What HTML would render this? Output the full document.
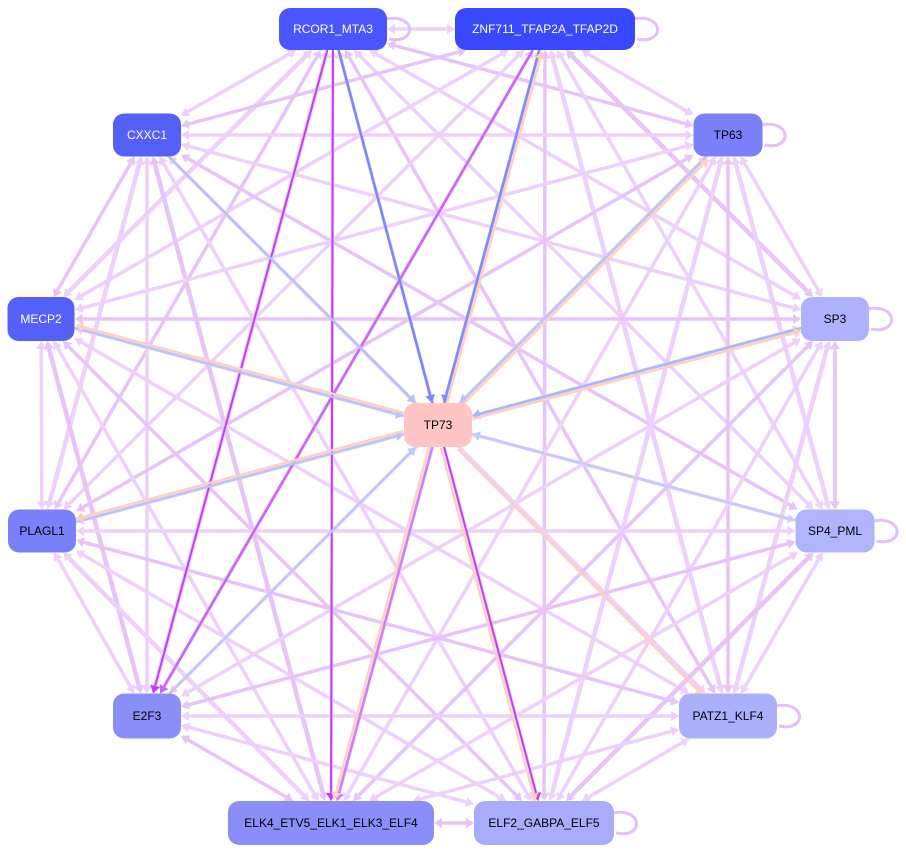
<!DOCTYPE html>
<html><head><meta charset="utf-8"><style>
html,body{margin:0;padding:0;background:#fff;width:906px;height:853px;overflow:hidden}
svg{display:block}
text{font-family:"Liberation Sans",sans-serif;font-size:12px}
</style></head><body>
<svg id="s" width="906" height="853" viewBox="0 0 906 853" xmlns="http://www.w3.org/2000/svg">
<g id="edges"></g>
<g id="nodes"></g>
</svg>
<script>
var N={
RC:[333,29,108,42,"#4a55ff","RCOR1_MTA3","#fff"],
ZN:[545,29,180,42,"#3848ff","ZNF711_TFAP2A_TFAP2D","#fff"],
CX:[147,135,68,43,"#5560f8","CXXC1","#fff"],
T63:[728,135,69,43,"#7a80fa","TP63","#000"],
ME:[41,319,67,44,"#5560f8","MECP2","#fff"],
SP3:[835,319,68,44,"#aeb2fc","SP3","#000"],
T73:[438,425,68,44,"#ffc4c4","TP73","#000"],
PL:[42,531,68,43,"#7a80fa","PLAGL1","#000"],
SP4:[835,531,79,43,"#b0b4fb","SP4_PML","#000"],
E2:[147,716,68,45,"#8a8ef8","E2F3","#000"],
PA:[728,716,98,45,"#aab0fa","PATZ1_KLF4","#000"],
EK:[331,823,206,44,"#8a8ef8","ELK4_ETV5_ELK1_ELK3_ELF4","#000"],
EF:[544,823,140,44,"#a8acfa","ELF2_GABPA_ELF5","#000"]};
var E=document.getElementById("edges"),G=document.getElementById("nodes"),ns="http://www.w3.org/2000/svg";
function clip(a,b){var dx=b[0]-a[0],dy=b[1]-a[1];var tx=dx?(b[2]/2)/Math.abs(dx):1e9,ty=dy?(b[3]/2)/Math.abs(dy):1e9;var t=Math.min(tx,ty);return [b[0]-dx*t,b[1]-dy*t];}
function head(q,ux,uy,c){var ex=q[0]-ux*8,ey=q[1]-uy*8,px=-uy,py=ux;var h=document.createElementNS(ns,"path");
h.setAttribute("d","M"+q[0]+","+q[1]+"L"+(ex+px*5)+","+(ey+py*5)+"L"+(ex-px*5)+","+(ey-py*5)+"z");h.setAttribute("fill",c);E.appendChild(h);}
function line(a,b,c,w,off,both){var A=N[a],B=N[b];var dx=B[0]-A[0],dy=B[1]-A[1],L=Math.hypot(dx,dy);var ux=dx/L,uy=dy/L;var ox=-uy*off,oy=ux*off;
var s=[A[0]+ox,A[1]+oy,A[2],A[3]],t=[B[0]+ox,B[1]+oy,B[2],B[3]];var p=clip(t,s),q=clip(s,t);
var l=document.createElementNS(ns,"line");
var sx=both?p[0]+ux*8:p[0],sy=both?p[1]+uy*8:p[1];
l.setAttribute("x1",sx);l.setAttribute("y1",sy);l.setAttribute("x2",q[0]-ux*8);l.setAttribute("y2",q[1]-uy*8);l.setAttribute("stroke",c);l.setAttribute("stroke-width",w);E.appendChild(l);
head(q,ux,uy,c);if(both)head(p,-ux,-uy,c);}
var outer=["RC","ZN","CX","T63","ME","SP3","PL","SP4","E2","PA","EK","EF"];
for(var i=0;i<outer.length;i++)for(var j=i+1;j<outer.length;j++){line(outer[i],outer[j],(i+j)%3==0?"#e6c4f9":"#edd0fb",(i*7+j)%4==0?4.5:3.5,0,true);}
line("RC","E2","#c040f0",2,0);line("RC","EF","#c040f0",2,0);line("ZN","E2","#cc66f4",2.5,0);line("RC","EK","#c040f0",2,0);line("ZN","EK","#d080f6",2.5,0);
var sp=[["CX","#b8c0fa"],["RC","#7a88f8"],["ZN","#7a90f8"],["T63","#b8c4fa"],["SP3","#a8b8fa"],["SP4","#c4cafa"],["E2","#c0c8fa"],["ME","#b8c4fa"],["PL","#b8c4fa"]];
sp.forEach(function(e){line(e[0],"T73",e[1],2.5,0)});
["T63","SP3","PA","EF","EK","ME","PL","ZN"].forEach(function(k){line("T73",k,"#ffcfc0",2.5,3)});
["RC","ZN","T63","SP3","SP4","PA","EF"].forEach(function(k){var A=N[k];var x=A[0]+A[2]/2,y=A[1];var p=document.createElementNS(ns,"path");
p.setAttribute("d","M"+(x-2)+","+(y-10)+"C"+(x+30)+","+(y-16)+" "+(x+30)+","+(y+16)+" "+(x+2)+","+(y+10));p.setAttribute("stroke","#e4c0f8");p.setAttribute("stroke-width",3);p.setAttribute("fill","none");E.appendChild(p);});
for(var k in N){var A=N[k];var r=document.createElementNS(ns,"rect");r.setAttribute("x",A[0]-A[2]/2);r.setAttribute("y",A[1]-A[3]/2);r.setAttribute("width",A[2]);r.setAttribute("height",A[3]);r.setAttribute("rx",11);r.setAttribute("fill",A[4]);G.appendChild(r);
var t=document.createElementNS(ns,"text");t.setAttribute("x",A[0]);t.setAttribute("y",A[1]+4);t.setAttribute("text-anchor","middle");t.setAttribute("fill",A[6]);t.textContent=A[5];G.appendChild(t);}
</script>
</body></html>
